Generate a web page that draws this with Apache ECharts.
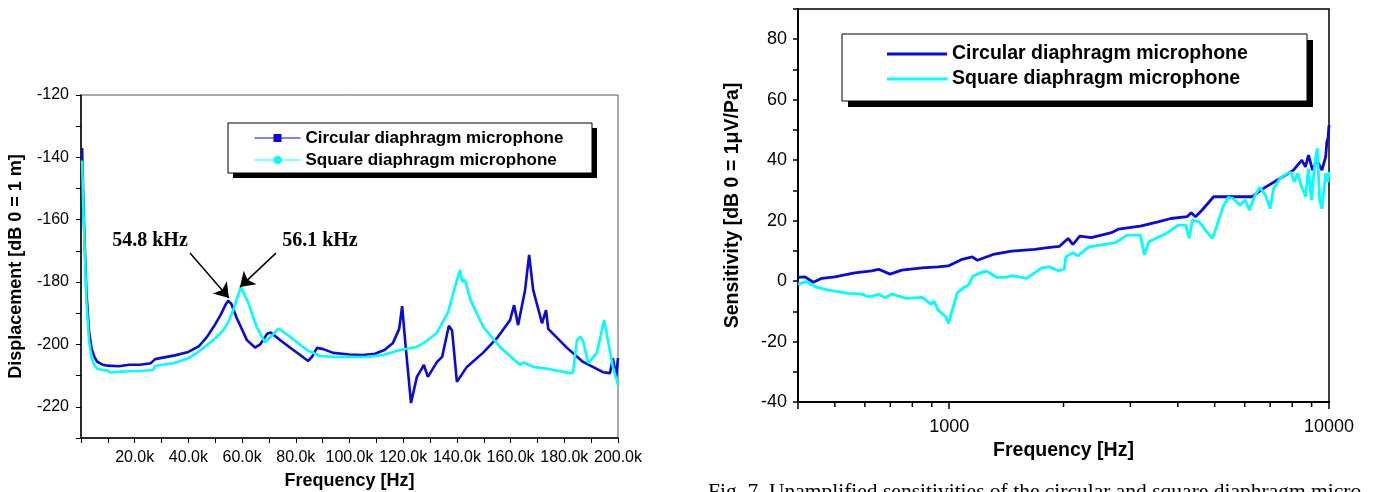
<!DOCTYPE html>
<html>
<head>
<meta charset="utf-8">
<script src="https://cdn.jsdelivr.net/npm/echarts@6/dist/echarts.min.js"></script>
<style>
  html, body { margin: 0; padding: 0; background: #fff; }
  #main { width: 1375px; height: 492px; }
</style>
</head>
<body>
<div id="main"></div>
<script>
// left panel: displacement vs frequency (kHz)
const dispFreqCircular = [0.4, 1, 2, 3, 4, 5, 6, 8, 10, 14, 18, 22, 26, 27.6, 30, 35, 40, 44, 47, 50, 52, 54, 54.8, 56, 58, 61.8, 64.8, 66.7, 69.3, 70.7, 74, 77.8, 81, 84.6, 86, 87.9, 90.2, 93.9, 100, 105, 109.5, 113, 116.2, 118.5, 119.6, 120.7, 122.9, 125.1, 127.7, 129.2, 132.6, 134.5, 137, 138.2, 140, 143.7, 149.7, 154.9, 159.8, 161.3, 162.8, 165.4, 166.9, 168.4, 171.7, 173.2, 174, 181, 187, 194.4, 197, 198.1, 199.3, 200]
const dispCircular = [-137, -158, -183, -196, -201.5, -204, -205.5, -206.5, -206.8, -207, -206.5, -206.5, -206, -204.7, -204.3, -203.5, -202.4, -200.5, -197.5, -193.5, -190.5, -187, -186, -187, -191.5, -198.6, -201, -200, -196.6, -196.2, -198.5, -201, -203, -205.3, -204, -201.1, -201.5, -202.7, -203.2, -203.4, -203, -201.8, -199.5, -195, -187.7, -198.6, -218.8, -210.4, -206.6, -210.4, -205.6, -204, -194, -195.5, -212, -207.2, -202.7, -198, -192.2, -187.4, -193.8, -182.5, -171.3, -182.5, -193.2, -189, -195, -201.1, -205.6, -208.9, -209.2, -204.4, -210.4, -204.4]

const dispFreqSquare = [0.4, 1, 2, 3, 4, 5, 6, 8, 10, 10.8, 14, 18, 22, 26.8, 27.5, 30, 34.3, 40, 43, 46.9, 50, 53, 55, 56.7, 58, 59.5, 62.3, 65.4, 68.5, 70.4, 73.5, 77.8, 84.1, 89, 95, 100, 106, 112.5, 118.8, 125, 127.5, 132.5, 136.7, 140, 141.2, 142, 143, 145, 149.8, 156, 163.5, 164.6, 168.4, 175, 182, 183.2, 184.7, 186, 187, 188.9, 192.1, 194.8, 196.3, 198.1, 200]
const dispSquare = [-141, -160, -186, -199, -204.5, -206.8, -207.8, -208.2, -208.4, -209, -208.8, -208.6, -208.5, -208.2, -206.9, -206.5, -206, -204.4, -202.8, -200.2, -198, -195.4, -192.5, -189, -185.5, -181.6, -186.7, -194.4, -199.3, -197.7, -194.9, -197.5, -201.8, -203.7, -204, -204, -204, -203.4, -201.8, -200.8, -199.6, -196.3, -189.6, -179.3, -176.1, -180, -179.3, -185.7, -194.4, -200.8, -206.6, -205.8, -207.2, -208, -209.2, -209, -198.6, -197.5, -199, -206, -202.7, -192.2, -199, -207.2, -213]

// right panel: sensitivity vs frequency (Hz, log axis)
const sensFreqCircular = [400, 417, 439, 462, 500, 564, 625, 652, 699, 750, 849, 935, 995, 1082, 1150, 1186, 1306, 1461, 1679, 1817, 1953, 2056, 2118, 2206, 2366, 2676, 2793, 3185, 3548, 3833, 4230, 4337, 4452, 4635, 4968, 6272, 6788, 7555, 8060, 8480, 8670, 8830, 9050, 9290, 9580, 9800, 9870, 9940, 10000]
const sensCircular = [1.2, 1.4, -0.4, 0.9, 1.4, 2.7, 3.4, 3.9, 2.3, 3.6, 4.4, 4.7, 5.0, 7.2, 8.0, 6.9, 8.8, 9.9, 10.5, 11.1, 11.5, 14.1, 12.1, 14.9, 14.4, 16.0, 17.2, 18.2, 19.6, 20.7, 21.3, 22.6, 21.3, 23.5, 27.9, 27.9, 31.0, 34.5, 36.7, 40.0, 37.8, 41.7, 36.7, 40, 36.7, 41.1, 46, 47.2, 51.6]

const sensFreqSquare = [400, 421, 444, 480, 542, 588, 613, 652, 678, 707, 770, 849, 896, 911, 935, 979, 996, 1010, 1050, 1085, 1124, 1155, 1209, 1255, 1335, 1405, 1461, 1599, 1751, 1839, 1932, 2009, 2028, 2118, 2177, 2333, 2741, 2939, 3185, 3264, 3352, 3760, 4007, 4195, 4281, 4368, 4548, 4800, 4935, 5056, 5262, 5426, 5592, 5828, 6008, 6168, 6384, 6580, 6787, 7001, 7145, 7437, 7750, 7950, 8096, 8270, 8444, 8680, 8825, 8984, 9175, 9310, 9450, 9580, 9800, 9930, 10000]
const sensSquare = [-1.0, -0.2, -1.9, -3.0, -4.1, -4.3, -5.2, -4.4, -5.5, -4.3, -5.7, -5.4, -7.7, -6.6, -9.6, -11.8, -14.0, -11.2, -3.9, -2.4, -1.3, 1.7, 2.7, 3.3, 1.2, 1.2, 1.8, 0.9, 4.4, 4.7, 3.4, 4.0, 8.0, 9.4, 8.3, 11.3, 12.7, 15.2, 15.2, 8.6, 13.0, 16.0, 18.5, 18.5, 14.1, 20.2, 19.6, 15.8, 14.1, 18, 24.6, 27.7, 27.3, 25.1, 26.8, 23.5, 28.4, 31, 28.6, 24, 30.6, 34, 35.6, 36, 32.8, 35.6, 31.7, 27.9, 37.2, 26.8, 38.9, 43.9, 26.8, 24, 35.6, 32.7, 36.1]

const seriesNames = ['Circular diaphragm microphone', 'Square diaphragm microphone']
const logMinorTicks = [500, 600, 700, 800, 900, 2000, 3000, 4000, 5000, 6000, 7000, 8000, 9000]

// peak annotations on left panel
const peakLabels = [
  { text: '54.8 kHz', at: [25.7, -166.8] },
  { text: '56.1 kHz', at: [89, -166.8] }
]
const peakArrows = [
  [[40.6, -170.7], [55.1, -185.1]],
  [[72.6, -170.7], [59.2, -181.6]]
]

const caption = 'Fig. 7. Unamplified sensitivities of the circular and square diaphragm micro-'

const blue = '#0a0ad8'
const cyan = '#00ffff'
const sans = 'Liberation Sans'
const serif = 'Liberation Serif'

const zip = (xs, ys) => xs.map((x, i) => [x, ys[i]])

// framed legend box with a hard drop shadow
function legendBox(x, y, w, h, off) {
  return [
    { type: 'rect', z: 3, silent: true, shape: { x: x + off, y: y + off, width: w, height: h }, style: { fill: '#000' } },
    { type: 'rect', z: 3, silent: true, shape: { x: x, y: y, width: w, height: h }, style: { fill: '#fff', stroke: '#000', lineWidth: 1 } }
  ]
}

const chart = echarts.init(document.getElementById('main'))

const option = {
  animation: false,
  backgroundColor: '#fff',
  grid: [
    { left: 81, top: 95, width: 537, height: 343, outerBoundsMode: 'none', show: true, borderColor: '#555', borderWidth: 1 },
    { left: 798, top: 9, width: 531, height: 393, outerBoundsMode: 'none', show: true, borderColor: '#000', borderWidth: 1.5 }
  ],
  xAxis: [
    {
      gridIndex: 0, type: 'value', min: 0, max: 200, interval: 10,
      name: 'Frequency [Hz]', nameLocation: 'middle', nameGap: 34,
      nameTextStyle: { fontFamily: sans, fontWeight: 'bold', fontSize: 18, color: '#000' },
      axisLine: { onZero: false, lineStyle: { color: '#000', width: 1.5 } },
      axisTick: { length: 5, lineStyle: { color: '#000' } },
      axisLabel: {
        margin: 12, fontFamily: sans, fontSize: 16, color: '#000',
        formatter: v => (v > 0 && v % 20 === 0) ? v.toFixed(1) + 'k' : ''
      },
      splitLine: { show: false }
    },
    {
      gridIndex: 1, type: 'log', logBase: 10, min: 400, max: 10000,
      name: 'Frequency [Hz]', nameLocation: 'middle', nameGap: 36,
      nameTextStyle: { fontFamily: sans, fontWeight: 'bold', fontSize: 19.5, color: '#000' },
      axisLine: { onZero: false, lineStyle: { color: '#000', width: 2 } },
      axisTick: { length: 7, lineStyle: { color: '#000', width: 1.5 } },
      axisLabel: {
        margin: 16, fontFamily: sans, fontSize: 18, color: '#000',
        formatter: v => {
          const r = Math.round(v)
          return (r === 1000 || r === 10000) ? String(r) : ''
        }
      },
      splitLine: { show: false }
    }
  ],
  yAxis: [
    {
      gridIndex: 0, type: 'value', min: -230, max: -120, interval: 10,
      name: 'Displacement [dB 0 = 1 m]', nameLocation: 'middle', nameGap: 56,
      nameTextStyle: { fontFamily: sans, fontWeight: 'bold', fontSize: 18, color: '#000' },
      axisLine: { show: true, onZero: false, lineStyle: { color: '#000', width: 1.5 } },
      axisTick: { show: true, length: 5, lineStyle: { color: '#000' } },
      axisLabel: {
        margin: 12, fontFamily: sans, fontSize: 16, color: '#000',
        formatter: v => v % 20 === 0 ? String(v) : ''
      },
      splitLine: { show: false }
    },
    {
      gridIndex: 1, type: 'value', min: -40, max: 90, interval: 10,
      name: 'Sensitivity [dB 0 = 1\u03bcV/Pa]', nameLocation: 'middle', nameGap: 55,
      nameTextStyle: { fontFamily: sans, fontWeight: 'bold', fontSize: 19.5, color: '#000' },
      axisLine: { show: true, onZero: false, lineStyle: { color: '#000', width: 2 } },
      axisTick: { show: true, length: 5, lineStyle: { color: '#000', width: 1.5 } },
      axisLabel: {
        margin: 11, fontFamily: sans, fontSize: 18, color: '#000',
        formatter: v => v % 20 === 0 ? String(v) : ''
      },
      splitLine: { show: false }
    }
  ],
  legend: [
    {
      orient: 'vertical', left: 228, top: 123, z: 5,
      padding: [5, 25, 3, 26], itemGap: 2, itemWidth: 46, itemHeight: 10,
      lineStyle: { width: 1 },
      textStyle: { fontFamily: sans, fontWeight: 'bold', fontSize: 17, color: '#000', lineHeight: 20 },
      selectedMode: false,
      data: seriesNames
    },
    {
      orient: 'vertical', left: 842, top: 34, z: 5,
      padding: [9, 57, 11, 45], itemGap: 3, itemWidth: 60, itemHeight: 3,
      textStyle: { fontFamily: sans, fontWeight: 'bold', fontSize: 19.5, color: '#000', lineHeight: 22 },
      selectedMode: false,
      data: seriesNames.map(n => ({ name: n, icon: 'rect' }))
    }
  ],
  graphic: [
    ...legendBox(228, 123, 364, 50, 5),
    ...legendBox(842, 34, 465, 67, 6),
    {
      type: 'text', left: 708, top: 481, silent: true,
      style: { text: caption, font: '21.5px "' + serif + '"', fill: '#000' }
    }
  ],
  series: [
    {
      name: seriesNames[0], type: 'line', xAxisIndex: 0, yAxisIndex: 0,
      data: zip(dispFreqCircular, dispCircular),
      symbol: 'rect', showSymbol: false,
      lineStyle: { color: blue, width: 2.6 }, itemStyle: { color: blue },
      markLine: {
        silent: true, symbol: ['none', 'arrow'], symbolSize: [14, 14],
        lineStyle: { color: '#000', width: 1.5, type: 'solid' },
        label: { show: false },
        data: peakArrows.map(a => [{ coord: a[0] }, { coord: a[1] }])
      },
      markPoint: {
        silent: true, symbolSize: 0,
        label: {
          show: true, position: 'inside', formatter: p => p.name,
          fontFamily: serif, fontWeight: 'bold', fontSize: 20, color: '#000'
        },
        data: peakLabels.map(p => ({ name: p.text, coord: p.at }))
      },
      z: 2
    },
    {
      name: seriesNames[1], type: 'line', xAxisIndex: 0, yAxisIndex: 0,
      data: zip(dispFreqSquare, dispSquare),
      symbol: 'circle', showSymbol: false,
      lineStyle: { color: cyan, width: 2.6 }, itemStyle: { color: cyan },
      z: 3
    },
    {
      name: seriesNames[0], type: 'line', xAxisIndex: 1, yAxisIndex: 1,
      data: zip(sensFreqCircular, sensCircular),
      showSymbol: false,
      lineStyle: { color: blue, width: 2.8 }, itemStyle: { color: blue },
      z: 2
    },
    {
      name: seriesNames[1], type: 'line', xAxisIndex: 1, yAxisIndex: 1,
      data: zip(sensFreqSquare, sensSquare),
      showSymbol: false,
      lineStyle: { color: cyan, width: 2.8 }, itemStyle: { color: cyan },
      z: 3
    },
    {
      // minor ticks of the log axis (2..9 of each decade)
      type: 'custom', xAxisIndex: 1, yAxisIndex: 1, silent: true, clip: false,
      data: logMinorTicks.map(f => [f, -40]),
      renderItem: (params, api) => {
        const p = api.coord([api.value(0), api.value(1)])
        return {
          type: 'line',
          shape: { x1: p[0], y1: p[1], x2: p[0], y2: p[1] + 5 },
          style: { stroke: '#000', lineWidth: 1.5 }
        }
      }
    }
  ]
}

chart.setOption(option)
</script>
</body>
</html>
